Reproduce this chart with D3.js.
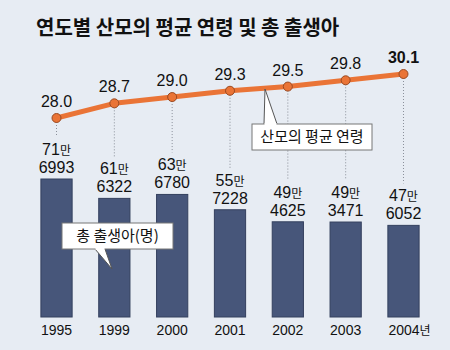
<!DOCTYPE html>
<html>
<head>
<meta charset="utf-8">
<script src="https://cdn.jsdelivr.net/npm/d3@7"></script>
<style>
  body { margin: 0; background: #e7ecf3; }
  svg { display: block; font-family: "Noto Sans CJK KR", "Noto Sans", sans-serif; }
  .num { font-family: "Liberation Sans", "DejaVu Sans", sans-serif; }
</style>
</head>
<body>
<div id="chart"></div>
<script>
const years = ["1995", "1999", "2000", "2001", "2002", "2003", "2004"];
const births = [716993, 616322, 636780, 557228, 494625, 493471, 476052];
const ages = [28.0, 28.7, 29.0, 29.3, 29.5, 29.8, 30.1];
const yearLabels = ["1995", "1999", "2000", "2001", "2002", "2003", "2004"];

const width = 450, height = 350;

const svg = d3.select("#chart").append("svg")
    .attr("width", width)
    .attr("height", height);

svg.append("rect").attr("width", width).attr("height", height).attr("fill", "#e7ecf3");

// title
svg.append("text")
    .attr("x", 36).attr("y", 35)
    .attr("font-size", 20).attr("font-weight", "bold")
    .attr("fill", "#111")
    .text("연도별 산모의 평균 연령 및 총 출생아");

let x = d3.scaleBand()
    .domain(years)
    .range([27.6, 432.4])
    .paddingInner(0.46)
    .paddingOuter(0.23);

let yBar = d3.scaleLinear()
    .domain([0, 716993])
    .range([317, 179]);

let yAge = d3.scaleLinear()
    .domain([28.0, 30.1])
    .range([118, 74]);

const cx = d => x(d) + x.bandwidth() / 2;

// bars
svg.selectAll(".bar")
    .data(years)
    .enter()
    .append("rect")
      .attr("x", d => x(d))
      .attr("y", (d, i) => yBar(births[i]))
      .attr("width", x.bandwidth())
      .attr("height", (d, i) => yBar(0) - yBar(births[i]))
      .attr("fill", "#47567a")
      .attr("stroke", "#34405e")
      .attr("stroke-width", 1);

// year axis
const xAxis = svg.append("g")
    .attr("transform", "translate(0,318)")
    .call(d3.axisBottom(x).tickSize(0).tickPadding(7).tickFormat((d, i) => yearLabels[i]))
    .call(g => g.select(".domain").remove());
xAxis.selectAll("text")
    .attr("class", "num")
    .attr("font-family", null)
    .attr("font-size", 14)
    .attr("fill", "#111");
// unit suffix on last year
xAxis.selectAll(".tick").filter((d, i) => i === years.length - 1).select("text")
    .attr("dx", 6)
  .append("tspan")
    .attr("font-family", "'Noto Sans CJK KR', sans-serif")
    .attr("font-size", 12)
    .text("년");

// value labels over bars
const lab = svg.selectAll(".vlab")
    .data(years)
    .enter()
    .append("text")
      .attr("class", "num")
      .attr("text-anchor", "middle")
      .attr("fill", "#111")
      .attr("font-size", 16);
lab.append("tspan")
    .attr("x", d => cx(d))
    .attr("y", (d, i) => yBar(births[i]) - 24)
    .text((d, i) => Math.floor(births[i] / 10000))
  .append("tspan")
    .attr("font-family", "'Noto Sans CJK KR', sans-serif")
    .attr("font-size", 12)
    .text("만");
lab.append("tspan")
    .attr("x", d => cx(d))
    .attr("y", (d, i) => yBar(births[i]) - 6)
    .text((d, i) => String(births[i] % 10000).padStart(4, "0"));

// dotted leaders from points to labels
svg.selectAll(".lead")
    .data(years)
    .enter()
    .append("line")
      .attr("x1", d => cx(d)).attr("x2", d => cx(d))
      .attr("y1", (d, i) => yAge(ages[i]) + 4)
      .attr("y2", (d, i) => yBar(births[i]) - 42)
      .attr("stroke", "#8a8f99")
      .attr("stroke-width", 1)
      .attr("stroke-dasharray", "1,2");

// age line
const line = d3.line()
    .x((d, i) => cx(years[i]))
    .y(d => yAge(d));

svg.append("path")
    .datum(ages)
    .attr("d", line)
    .attr("fill", "none")
    .attr("stroke", "#ea7436")
    .attr("stroke-width", 5)
    .attr("stroke-linejoin", "round");

svg.selectAll(".pt")
    .data(ages)
    .enter()
    .append("circle")
      .attr("cx", (d, i) => cx(years[i]))
      .attr("cy", d => yAge(d))
      .attr("r", 4.5)
      .attr("fill", "#ea7436")
      .attr("stroke", "#9a4a22")
      .attr("stroke-width", 1);

svg.selectAll(".alab")
    .data(ages)
    .enter()
    .append("text")
      .attr("class", "num")
      .attr("x", (d, i) => cx(years[i]))
      .attr("y", d => yAge(d) - 11)
      .attr("text-anchor", "middle")
      .attr("font-size", 16)
      .attr("font-weight", (d, i) => i === ages.length - 1 ? "bold" : "normal")
      .attr("fill", "#111")
      .text(d => d.toFixed(1));

// callouts
function callout(bx, by, bw, bh, tip, base, text) {
  svg.append("path")
      .attr("d", `M${base[0]},${base[1]} L${tip[0]},${tip[1]} L${base[2]},${base[1]}`)
      .attr("fill", "#fff")
      .attr("stroke", "#555")
      .attr("stroke-width", 1);
  svg.append("rect")
      .attr("x", bx).attr("y", by).attr("width", bw).attr("height", bh)
      .attr("fill", "#fff")
      .attr("stroke", "#777")
      .attr("stroke-width", 1);
  // cover the joint
  svg.append("line")
      .attr("x1", base[0] + 0.5).attr("x2", base[2] - 0.5)
      .attr("y1", base[1]).attr("y2", base[1])
      .attr("stroke", "#fff").attr("stroke-width", 2);
  svg.append("text")
      .attr("x", bx + bw / 2).attr("y", by + bh / 2 + 5)
      .attr("text-anchor", "middle")
      .attr("font-size", 15)
      .attr("fill", "#111")
      .text(text);
}

callout(252, 124, 120, 26, [265, 89], [264, 124, 277], "산모의 평균 연령");
callout(62, 223, 111, 26, [112, 269], [95, 249, 105], "총 출생아(명)");
</script>
</body>
</html>
